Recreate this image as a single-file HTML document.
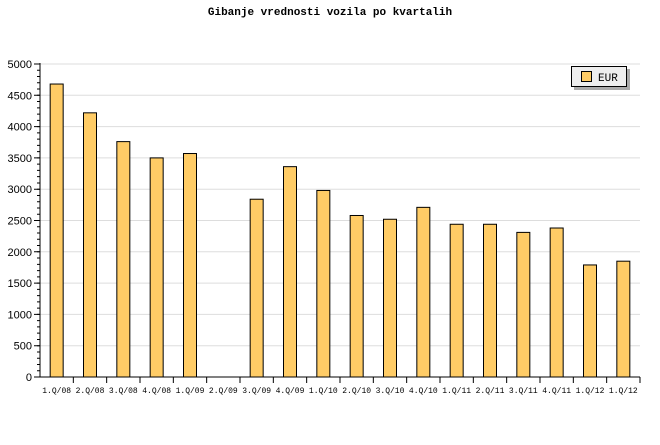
<!DOCTYPE html><html><head><style>body{margin:0;background:#fff}</style></head><body>
<svg width="660" height="440" xmlns="http://www.w3.org/2000/svg">
<text x="330" y="15" text-anchor="middle" font-family="Liberation Mono,monospace" font-weight="bold" font-size="11">Gibanje vrednosti vozila po kvartalih</text>
<g stroke="#ddd">
<line x1="40" x2="640" y1="345.7" y2="345.7"/><line x1="40" x2="640" y1="314.4" y2="314.4"/><line x1="40" x2="640" y1="283.1" y2="283.1"/><line x1="40" x2="640" y1="251.8" y2="251.8"/><line x1="40" x2="640" y1="220.5" y2="220.5"/><line x1="40" x2="640" y1="189.2" y2="189.2"/><line x1="40" x2="640" y1="157.9" y2="157.9"/><line x1="40" x2="640" y1="126.6" y2="126.6"/><line x1="40" x2="640" y1="95.3" y2="95.3"/><line x1="40" x2="640" y1="64" y2="64"/>
</g>
<g stroke="#000" fill="none">
<line x1="38.5" x2="38.5" y1="377.5" y2="63" stroke-width="3" stroke-dasharray="1 5.26"/>
<line x1="72.83" x2="641" y1="380" y2="380" stroke-width="6" stroke-dasharray="1 32.333"/>
<path d="M34 377H40M34 345.7H40M34 314.4H40M34 283.1H40M34 251.8H40M34 220.5H40M34 189.2H40M34 157.9H40M34 126.6H40M34 95.3H40M34 64H40"/>
</g>
<g font-family="Liberation Sans,sans-serif" font-size="11" text-anchor="end">
<text x="32" y="381">0</text><text x="32" y="349.7">500</text><text x="32" y="318.4">1000</text><text x="32" y="287.1">1500</text><text x="32" y="255.8">2000</text><text x="32" y="224.5">2500</text><text x="32" y="193.2">3000</text><text x="32" y="161.9">3500</text><text x="32" y="130.6">4000</text><text x="32" y="99.3">4500</text><text x="32" y="68">5000</text>
</g>
<g fill="#fc6" stroke="#000">
<rect x="50.17" y="84.03" width="13" height="292.97"/>
<rect x="83.5" y="112.83" width="13" height="264.17"/>
<rect x="116.83" y="141.62" width="13" height="235.38"/>
<rect x="150.17" y="157.9" width="13" height="219.1"/>
<rect x="183.5" y="153.52" width="13" height="223.48"/>
<rect x="250.17" y="199.22" width="13" height="177.78"/>
<rect x="283.5" y="166.66" width="13" height="210.34"/>
<rect x="316.83" y="190.45" width="13" height="186.55"/>
<rect x="350.17" y="215.49" width="13" height="161.51"/>
<rect x="383.5" y="219.25" width="13" height="157.75"/>
<rect x="416.83" y="207.35" width="13" height="169.65"/>
<rect x="450.17" y="224.26" width="13" height="152.74"/>
<rect x="483.5" y="224.26" width="13" height="152.74"/>
<rect x="516.83" y="232.39" width="13" height="144.61"/>
<rect x="550.17" y="228.01" width="13" height="148.99"/>
<rect x="583.5" y="264.95" width="13" height="112.05"/>
<rect x="616.83" y="261.19" width="13" height="115.81"/>
</g>
<g stroke="#000"><line x1="40" x2="40" y1="63" y2="377"/><line x1="40" x2="640" y1="377" y2="377"/></g>
<g font-family="Liberation Mono,monospace" font-size="8" text-anchor="middle">
<text x="56.67" y="393">1.Q/08</text><text x="90" y="393">2.Q/08</text><text x="123.33" y="393">3.Q/08</text><text x="156.67" y="393">4.Q/08</text><text x="190" y="393">1.Q/09</text><text x="223.33" y="393">2.Q/09</text><text x="256.67" y="393">3.Q/09</text><text x="290" y="393">4.Q/09</text><text x="323.33" y="393">1.Q/10</text><text x="356.67" y="393">2.Q/10</text><text x="390" y="393">3.Q/10</text><text x="423.33" y="393">4.Q/10</text><text x="456.67" y="393">1.Q/11</text><text x="490" y="393">2.Q/11</text><text x="523.33" y="393">3.Q/11</text><text x="556.67" y="393">4.Q/11</text><text x="590" y="393">1.Q/12</text><text x="623.33" y="393">1.Q/12</text>
</g>
<rect x="574" y="69" width="56" height="21" fill="#aaa"/>
<rect x="571.5" y="66.5" width="55" height="20" fill="#eee" stroke="#000"/>
<rect x="581.5" y="71.5" width="10" height="10" fill="#fc6" stroke="#000"/>
<text x="598" y="81" font-family="Liberation Mono,monospace" font-size="11">EUR</text>
</svg></body></html>
